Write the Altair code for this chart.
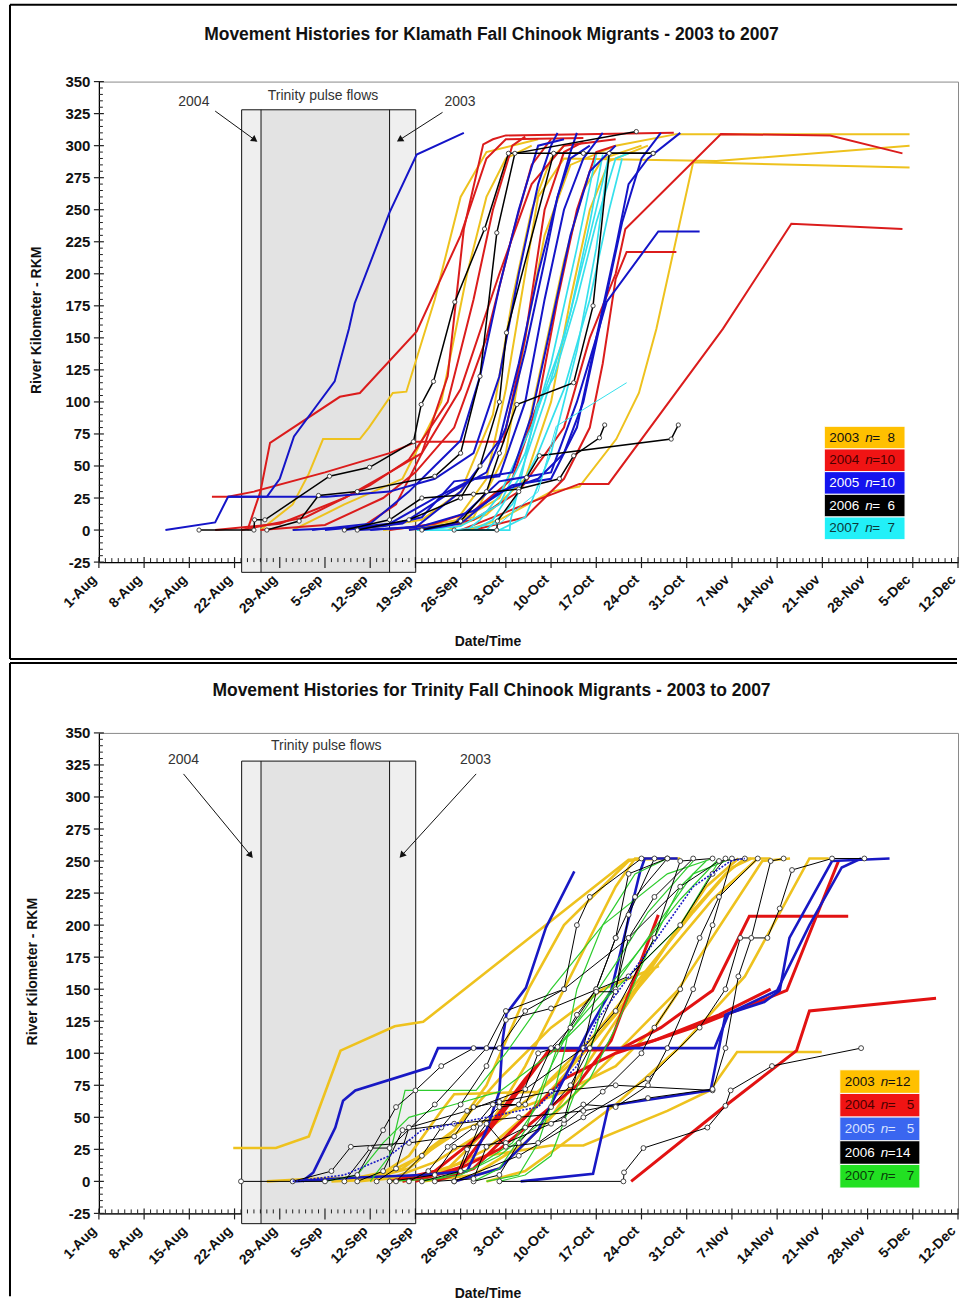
import math
import altair as alt
import pandas as pd

# ---------------- text ----------------
TITLE_TOP = "Movement Histories for Klamath Fall Chinook Migrants - 2003 to 2007"
TITLE_BOT = "Movement Histories for Trinity Fall Chinook Migrants - 2003 to 2007"
X_TITLE = "Date/Time"
Y_TITLE = "River Kilometer - RKM"
YEARS = [2003, 2004, 2005, 2006, 2007]
TOP_N = ["\u00a0=\u20078", "\u00a0=10", "\u00a0=10", "\u00a0=\u20076", "\u00a0=\u20077"]
BOT_N = ["=12", "=\u2007\u00a05", "=\u2007\u00a05", "=14", "=\u2007\u00a07"]

# x values are days after 1-Aug
BASE = pd.Timestamp("2005-08-01")
X_MAX_DAY = 133
Y_MIN, Y_MAX = -25, 350
PULSE_EDGES = [22.1, 25.1, 45.0, 49.05]      # 2004 start, 2003 start, 2003 end, 2004 end
PULSE_TOP, PULSE_BOTTOM = 328, -33

# ---------------- Klamath (top) tracks: (day, rkm) ----------------
TOP_2003 = [
    [(49, 2), (58, 10), (63, 60), (66, 150), (69, 230), (73, 285), (80, 300), (89.4, 309), (125.5, 309)],
    [(44, 0), (55, 5), (60, 40), (63, 110), (66, 200), (68, 260), (72, 290), (95.6, 288), (125.5, 300)],
    [(57, 0), (62, 8), (70, 30), (74.4, 34), (80.1, 71), (83.6, 107), (86.3, 157), (92, 287), (125.5, 283)],
    [(25, 0), (30, 20), (32.5, 44), (34.7, 71), (40.4, 71), (41.8, 80), (45.5, 107), (47.6, 108), (52, 180), (56, 260), (60, 295), (68, 305)],
    [(48, 0), (55, 5), (62, 25), (66, 70), (69, 140), (72, 210), (75, 265), (78, 290), (84, 300)],
    [(30, 0), (38, 20), (47, 40), (53, 100), (57, 200), (60, 260), (63, 290), (67, 300)],
    [(40, 0), (50, 8), (56, 30), (61, 90), (64, 180), (67, 250), (70, 290), (72, 300)],
    [(54, 0), (60, 12), (66, 40), (70, 100), (73, 180), (76, 250), (79, 288), (85, 300)],
]
TOP_2004 = [
    [(56, 0), (66, 20), (74.4, 36), (78.9, 36), (96.6, 157), (107.2, 239), (124.4, 235)],
    [(50, 0), (58, 8), (65, 30), (72, 80), (76, 150), (80, 200), (81.5, 235), (96.3, 309), (113.2, 308), (124.4, 294)],
    [(40, 0), (46, 20), (50, 60), (54, 120), (56.5, 235), (59.5, 301), (61, 305), (63, 308), (89, 310)],
    [(58, 0), (66, 10), (72, 40), (76, 80), (78, 130), (80, 196), (81.7, 217), (89.4, 217)],
    [(23, 0), (25, 30), (26.5, 68), (37.3, 104), (40.4, 107), (49.2, 155), (56, 230), (60, 290), (63, 305), (75, 306)],
    [(17.5, 26), (20, 26), (24, 30), (35, 45), (45, 60), (49.2, 69), (62.6, 69), (66, 150), (69, 250), (72, 295), (75, 303)],
    [(22, 0), (32, 10), (42, 35), (48, 55), (54, 100), (58, 180), (61, 250), (64, 300), (66, 307)],
    [(25, 0), (35, 4), (44, 25), (49, 45), (55, 80), (60, 150), (64, 230), (67, 285), (70, 305)],
    [(18, 0), (28, 5), (38, 25), (45, 45), (50, 60), (56, 110), (62, 200), (67, 270), (72, 300), (80, 305)],
    [(45, 0), (52, 5), (58, 15), (64, 40), (68, 100), (71, 180), (74, 250), (77, 295), (80, 300)],
]
TOP_2005 = [
    [(10.3, 0), (18, 6), (20, 26), (26, 26), (28, 40), (30.2, 73), (33.7, 97), (36.5, 116), (38.7, 157), (39.6, 177), (45, 248), (49.2, 293), (56.5, 310)],
    [(20, 26), (35.3, 26), (45, 30), (52, 40), (58, 60), (62, 120), (65, 200), (68, 270), (70, 300), (71, 310)],
    [(30, 0), (44, 3), (50, 10), (55, 38), (62, 42), (66, 100), (69, 180), (72, 250), (75, 290), (78, 310)],
    [(48, 0), (55, 5), (62, 38), (70, 45), (74, 100), (77, 150), (78.6, 178), (86.6, 233), (93, 233)],
    [(35, 0), (45, 5), (52, 25), (58, 40), (64, 45), (67, 90), (70, 160), (73, 230), (76, 280), (80, 300)],
    [(40, 0), (49, 2), (56, 30), (62, 70), (65, 130), (68, 200), (71, 260), (73, 295), (74, 310)],
    [(33, 0), (42, 5), (48, 30), (52, 50), (56, 70), (59, 120), (62, 190), (65, 250), (68, 300), (72, 305)],
    [(50, 0), (56, 5), (62, 30), (68, 40), (72, 60), (75, 100), (78, 170), (81, 240), (84, 290), (87, 310)],
    [(42, 0), (50, 3), (58, 15), (64, 35), (70, 40), (74, 80), (77, 150), (80, 220), (82, 270), (85, 290), (90, 310)],
    [(38, 0), (47, 5), (54, 28), (60, 45), (63, 80), (66, 140), (69, 210), (71, 260), (73, 290), (76, 300)],
]
TOP_2006 = [
    [(15.5, 0), (24, 0), (24.1, 8), (25.7, 8), (35.7, 42), (41.9, 49), (48.7, 69), (49.9, 98), (51.8, 116), (55.1, 178), (59.7, 235), (63.4, 294), (85.8, 294)],
    [(26, 0), (31, 7), (34, 27), (40, 30), (52, 42), (56, 60), (59, 120), (61.6, 232), (64.4, 294), (83.2, 311)],
    [(38, 0), (45, 8), (50, 25), (58, 28), (65, 32), (71.3, 40), (73.5, 58), (77.5, 72), (78.3, 82)],
    [(55, 0), (61.6, 0), (61.7, 7), (65, 30), (66.2, 41), (68.2, 58), (88.6, 71), (89.7, 82)],
    [(50, 0), (56, 7), (60, 30), (62, 60), (64.7, 98), (73.5, 115), (76.5, 175), (79, 294), (85.8, 294)],
    [(40, 0), (48, 8), (56, 25), (59, 50), (62, 100), (63.1, 154), (70.4, 294), (75, 294)],
]
TOP_2007 = [
    [(49.2, 0), (63.6, 0), (63.7, 7), (65.2, 37), (67.8, 97), (70.5, 120), (74, 180), (77, 240), (80, 290), (82, 294)],
    [(57, 0), (59, 8), (62, 27), (67, 81), (72, 150), (76, 230), (79, 293)],
    [(60, 0), (64, 20), (68, 60), (72, 110), (76, 180), (79, 250), (81, 290)],
    [(58, 0), (61, 8), (65, 40), (69, 100), (73, 170), (76, 240), (78, 293)],
    [(50, 0), (56, 3), (62, 20), (66, 60), (70, 130), (74, 220), (77, 293)],
    [(62, 0), (66, 10), (70, 60), (74, 140), (77, 220), (79, 293)],
]
TOP_2007_THIN = [
    [(55, 0), (62, 5), (68, 30), (70.8, 81), (81.7, 115)],
]

# ---------------- Trinity (bottom) tracks ----------------
BOT_2003 = [
    [(20.8, 26), (27.4, 26), (32.5, 35), (37.4, 102), (45.8, 121), (50.2, 124.5), (82, 251), (90, 252)],
    [(40, 0), (50, 5), (60, 20), (70, 28), (75, 28), (88, 55), (94.6, 71), (98.8, 101), (111.9, 101)],
    [(45, 0), (52, 5), (60, 25), (68, 60), (75, 100), (83, 150), (90, 200), (97, 240), (100, 252), (104, 252)],
    [(40, 0), (48, 10), (55, 40), (60, 75), (66.6, 151), (72, 200), (82, 250), (84, 252)],
    [(50, 0), (58, 5), (66, 30), (74, 70), (82, 110), (89.6, 149), (102.7, 250), (107, 252)],
    [(60, 0), (66, 8), (72, 30), (80, 60), (90, 105), (100, 160), (106, 215), (110, 252), (113, 252)],
    [(26, 0), (33, 2), (40, 3), (47, 10), (55, 40), (62, 80), (70, 120), (78, 150), (86.7, 168)],
    [(42, 0), (48, 20), (53, 55), (55, 68), (68, 70), (75, 100), (85, 160), (95, 220), (102, 252)],
    [(36, 0), (45, 2), (52, 15), (60, 40), (68, 70), (76, 110), (84, 160), (92, 210), (98, 245), (101, 252)],
    [(47, 0), (54, 10), (60, 40), (66, 90), (70, 130), (75, 180), (80, 230), (83, 252), (88, 252)],
    [(55, 0), (62, 10), (70, 50), (78, 110), (86, 170), (94, 230), (99, 252)],
    [(38, 0), (44, 5), (50, 20), (56, 40), (64, 55), (72, 70), (80, 90), (86, 120), (90, 150)],
]
BOT_2004 = [
    [(82.4, 0), (97, 59), (108, 102), (110, 133), (129.6, 143)],
    [(45, 0), (52, 8), (60, 40), (66, 80), (70, 103), (81, 104), (87, 120), (95, 149), (100.7, 207), (116, 207)],
    [(52, 0), (58, 10), (64, 40), (72, 80), (80, 100), (92, 120), (106.5, 149), (114.5, 250)],
    [(47, 0), (55, 8), (62, 25), (68, 50), (74, 75), (79.3, 110), (86.6, 208)],
    [(49, 0), (56, 11), (62, 50), (69.6, 102), (80.9, 103), (86, 110), (96, 130), (104, 150)],
]
BOT_2005 = [
    [(31.5, 0), (33.2, 7), (36.6, 42), (37.8, 63), (39.7, 71), (51.2, 89), (52.5, 104), (95.3, 104), (97.5, 131), (103, 140), (105.4, 149), (106.9, 190), (113.5, 250), (122.4, 252)],
    [(30, 0), (40, 3), (50, 5), (57, 8), (60, 40), (62, 70), (62.5, 110), (63.1, 131), (66.1, 151), (69.2, 198), (73.6, 242)],
    [(55, 0), (62, 10), (68, 40), (72, 80), (76, 120), (79.3, 149), (83.8, 242), (84.5, 252), (89.6, 252)],
    [(65.3, 0), (76.5, 6), (78.9, 59), (94.7, 71), (97, 130), (105, 149), (110, 200), (115, 245), (118, 252)],
]
BOT_2005_DOTTED = [
    [(30, 0), (38, 5), (45, 20), (50, 40), (60, 50), (68, 58), (74, 90), (77, 125), (85, 180), (92, 230), (97.8, 250), (100, 252)],
]
BOT_2006 = [
    [(22, 0), (35, 0), (40, 5), (44, 40), (46, 58), (49, 71), (53, 90), (58, 104), (62, 104), (66, 133), (72, 150), (82, 190), (90, 230), (96, 250), (100, 252)],
    [(30, 0), (36, 8), (39, 27), (48, 30), (55, 35), (58, 58), (62, 62), (70, 70), (80, 75), (95, 71), (97, 104), (99, 160), (101, 190), (104, 250), (106, 252)],
    [(38, 0), (42, 26), (45, 26), (52, 60), (60, 104), (63, 133), (72, 150), (74, 200), (76, 222), (84, 252)],
    [(40, 0), (44, 8), (47, 40), (55, 45), (65, 50), (75, 55), (85, 65), (95, 72)],
    [(43, 0), (46, 10), (48, 42), (57, 55), (66, 72), (75, 104), (80, 133), (86, 190), (90, 250), (95, 252)],
    [(45, 0), (52, 5), (55, 27), (63, 30), (70, 45), (75, 60), (80, 58), (85, 75), (88, 104), (92, 150), (95, 200), (98, 252)],
    [(50, 0), (56, 8), (59, 45), (62, 58), (65, 60), (68, 100), (71, 105), (74, 130), (77, 150), (80, 190), (83, 222), (88, 252)],
    [(55, 0), (57, 25), (60, 45), (63, 27), (68, 30), (72, 45), (78, 70), (84, 100), (86, 120), (90, 150), (93, 190), (96, 222), (102, 252)],
    [(58, 0), (62, 5), (65, 30), (70, 58), (73, 75), (76, 104), (80, 150), (82, 190), (86, 222), (92, 252)],
    [(62, 0), (81.2, 0), (81.3, 7), (84.3, 26), (94.2, 42), (97, 59), (97.8, 71), (104.2, 90), (118, 104)],
    [(55, 0), (65, 20), (75, 50), (85, 80), (93, 120), (97, 150), (99.3, 190), (103.5, 190), (105.4, 213), (107.3, 243), (113.5, 252), (118.5, 252)],
    [(48, 0), (51, 8), (54, 27), (58, 42), (61, 60), (66, 60), (70, 104), (73, 120), (77, 150), (80, 190), (82, 240), (88, 252)],
    [(52, 0), (58, 2), (60, 27), (66, 42), (72, 48), (75, 104), (77, 148), (80, 148), (82, 208), (86, 252)],
    [(46, 0), (50, 20), (53, 42), (56, 60), (60, 90), (63, 126), (70, 135), (82, 160), (90, 200), (95, 240), (97, 252)],
]
BOT_2007 = [
    [(42, 0), (45, 20), (47.4, 71), (58.4, 71), (63, 100), (70, 150), (78, 200), (88, 240), (95, 252)],
    [(60, 0), (65, 5), (68, 30), (70, 60), (72, 100), (74, 150), (78, 200), (83, 240), (88, 252)],
    [(50, 0), (56, 5), (62, 20), (67, 40), (72, 60), (76, 80), (80, 120), (85, 180), (90, 230), (94, 250)],
    [(35, 0), (40, 5), (44, 30), (48, 50), (55, 60), (62, 70), (70, 100), (80, 150), (90, 200), (96, 250)],
    [(58, 0), (62, 10), (66, 40), (69, 80), (72, 110), (76, 140), (80, 170), (85, 210), (92, 250)],
    [(45, 0), (52, 2), (58, 10), (64, 30), (68, 60), (71, 105), (75, 130), (82, 170), (90, 220), (96, 252)],
    [(62, 0), (66, 5), (70, 20), (73, 60), (76, 100), (78, 140), (85, 190), (92, 240), (98, 252)],
]

# annotations: (day, rkm)
TOP_ANN_TEXT = [("Trinity pulse flows", 34.7, 339), ("2004", 14.7, 334), ("2003", 55.9, 334)]
TOP_ARROWS = [(18.0, 327, 24.0, 305), (53.2, 326, 46.7, 305)]
BOT_ANN_TEXT = [("Trinity pulse flows", 35.2, 340), ("2004", 13.1, 329), ("2003", 58.3, 329)]
BOT_ARROWS = [(13.1, 318, 23.4, 255), (58.4, 318, 47.0, 255)]
TOP_LEGEND = (112.3, 124.8, 81.0, 17.7)     # day left, day right, top rkm, row height
BOT_LEGEND = (114.7, 127.1, 87.1, 18.46)

# ---------------- styles ----------------
FONT = "Liberation Sans"
W, H = 860, 481
TOP_COL = {2003: "#EEC21E", 2004: "#DB1C1C", 2005: "#1414C8", 2006: "#000000", 2007: "#35E0EC"}
TOP_SW = {2003: 2, 2004: 2, 2005: 2, 2006: 1.5, 2007: 1.7}
BOT_COL = {2003: "#EEC21E", 2004: "#E21212", 2005: "#1818C4", 2006: "#000000", 2007: "#2ECC2E"}
BOT_SW = {2003: 2.6, 2004: 3, 2005: 2.6, 2006: 1, 2007: 1.2}
TOP_LEG_BG = ["#FFC000", "#F01414", "#1414EE", "#000000", "#22F0F8"]
TOP_LEG_FG = ["#111111", "#4a0000", "#FFFFFF", "#FFFFFF", "#0b3a3a"]
BOT_LEG_BG = ["#FFC000", "#F01414", "#3A66F0", "#000000", "#22E022"]
BOT_LEG_FG = ["#111111", "#4a0000", "#D8E2FF", "#FFFFFF", "#083a08"]


def ts(day):
    return (BASE + pd.to_timedelta(float(day), unit="D")).strftime("%Y-%m-%dT%H:%M:%S")


def dt(day):
    t = BASE + pd.to_timedelta(day, unit="D")
    return alt.DateTime(year=t.year, month=t.month, date=t.day)


def tracks_df(tracks, tag):
    rows = []
    for i, tr in enumerate(tracks):
        for j, (d, r) in enumerate(tr):
            rows.append({"track": f"{tag}-{i}", "seq": j, "date": ts(d), "rkm": r})
    return pd.DataFrame(rows)


XSCALE = alt.Scale(domain=[dt(0), dt(X_MAX_DAY)], nice=False)
YSCALE = alt.Scale(domain=[Y_MIN, Y_MAX], nice=False)


def xaxis(title_y):
    return alt.Axis(values=[dt(d) for d in range(0, X_MAX_DAY + 1, 7)], format="%-d-%b",
                    labelAngle=-45, labelAlign="right", labelBaseline="bottom",
                    labelFont=FONT, labelFontSize=14, labelFontWeight="bold",
                    labelColor="#111", labelPadding=20, ticks=False, grid=False,
                    domainColor="#000", domainWidth=1.2,
                    title=X_TITLE, titleFont=FONT, titleFontSize=14, titleFontWeight="bold",
                    titleColor="#111", titleX=389, titleY=title_y, titleBaseline="middle",
                    titleAlign="center")


def yaxis(title_x):
    return alt.Axis(values=list(range(Y_MIN, Y_MAX + 1, 25)), labelExpr="'' + datum.value",
                    labelFont=FONT, labelFontSize=15,
                    labelFontWeight="bold", labelColor="#111", labelPadding=9, ticks=False,
                    grid=False, domainColor="#000", domainWidth=1.2,
                    title=Y_TITLE, titleFont=FONT, titleFontSize=14, titleFontWeight="bold",
                    titleColor="#111", titleX=title_x, titleY=H / 2 - 2, titleBaseline="middle",
                    titleAlign="center", titleAngle=-90)


def panel(title, groups, col, sw, ann_text, arrows, legend, leg_bg, leg_fg, n_text,
          frame_top, title_y, xtitle_y, ytitle_x, frame_bottom, mark_size, special):
    X = alt.X("date:T", scale=XSCALE, axis=xaxis(xtitle_y))
    Y = alt.Y("rkm:Q", scale=YSCALE, axis=yaxis(ytitle_x))
    one = alt.Chart(pd.DataFrame({"k": [0]}))
    layers = []

    # pulse-flow bands
    e = PULSE_EDGES
    bands = pd.DataFrame({"date": [ts(e[0]), ts(e[1]), ts(e[2])],
                          "date2": [ts(e[1]), ts(e[2]), ts(e[3])],
                          "rkm": [PULSE_BOTTOM] * 3, "rkm2": [PULSE_TOP] * 3,
                          "kind": ["side", "mid", "side"]})
    layers.append(alt.Chart(bands).mark_rect().encode(
        x=X, x2="date2", y=Y, y2="rkm2",
        color=alt.Color("kind:N", scale=alt.Scale(domain=["side", "mid"], range=["#efefef", "#e3e3e3"]), legend=None)))

    # axis ticks (major crossing, minor inside)
    xt = pd.DataFrame({"date": [ts(d) for d in range(0, X_MAX_DAY + 1)],
                       "major": [d % 7 == 0 for d in range(0, X_MAX_DAY + 1)]})
    layers.append(alt.Chart(xt[~xt.major]).mark_rule(color="#222", strokeWidth=1).encode(
        x=X, y=alt.value(H - 4), y2=alt.value(H)))
    layers.append(alt.Chart(xt[xt.major]).mark_rule(color="#222", strokeWidth=1.2).encode(
        x=X, y=alt.value(H - 5), y2=alt.value(H + 6)))
    yt = pd.DataFrame({"rkm": list(range(Y_MIN, Y_MAX + 1, 5))})
    yt["major"] = yt.rkm % 25 == 0
    layers.append(alt.Chart(yt[~yt.major]).mark_rule(color="#222", strokeWidth=1).encode(
        y=Y, x=alt.value(0), x2=alt.value(4)))
    layers.append(alt.Chart(yt[yt.major]).mark_rule(color="#222", strokeWidth=1.2).encode(
        y=Y, x=alt.value(-5), x2=alt.value(5)))

    # band outlines
    outline = pd.DataFrame({"date": [ts(e[0])], "date2": [ts(e[3])], "rkm": [PULSE_BOTTOM], "rkm2": [PULSE_TOP]})
    layers.append(alt.Chart(outline).mark_rect(filled=False, stroke="#111", strokeWidth=1).encode(
        x=X, x2="date2", y=Y, y2="rkm2"))
    inner = pd.DataFrame({"date": [ts(e[1]), ts(e[2])], "rkm": [PULSE_BOTTOM] * 2, "rkm2": [PULSE_TOP] * 2})
    layers.append(alt.Chart(inner).mark_rule(color="#111", strokeWidth=1).encode(x=X, y=Y, y2="rkm2"))

    # annotations
    tdf = pd.DataFrame([{"label": t, "date": ts(d), "rkm": r} for t, d, r in ann_text])
    layers.append(alt.Chart(tdf).mark_text(font=FONT, fontSize=14, color="#333", baseline="middle").encode(
        x=X, y=Y, text="label:N"))
    pxd, pxr = W / X_MAX_DAY, H / (Y_MAX - Y_MIN)
    for (d1, r1, d2, r2) in arrows:
        adf = pd.DataFrame({"date": [ts(d1)], "date2": [ts(d2)], "rkm": [r1], "rkm2": [r2]})
        layers.append(alt.Chart(adf).mark_rule(color="#111", strokeWidth=1).encode(
            x=X, x2="date2", y=Y, y2="rkm2"))
        ang = math.degrees(math.atan2((d2 - d1) * pxd, (r2 - r1) * pxr)) % 360
        hdf = pd.DataFrame({"date": [ts(d2)], "rkm": [r2]})
        layers.append(alt.Chart(hdf).mark_point(shape="triangle", filled=True, color="#111", size=55,
                                                angle=ang, opacity=1).encode(x=X, y=Y))

    # tracks
    for yr, tracks in groups:
        df = tracks_df(tracks, yr)
        layers.append(alt.Chart(df).mark_line(color=col[yr], strokeWidth=sw[yr]).encode(
            x=X, y=Y, detail="track:N", order="seq:Q"))
        if yr == 2006:
            layers.append(alt.Chart(df).mark_point(shape="circle", filled=True, fill="#ffffff",
                                                   stroke="#333", strokeWidth=0.9, size=mark_size,
                                                   opacity=1).encode(x=X, y=Y))
    for yr, tracks, style in special:
        df = tracks_df(tracks, f"s{yr}")
        kw = dict(color=col[yr], strokeWidth=style[0])
        if style[1]:
            kw["strokeDash"] = style[1]
        layers.append(alt.Chart(df).mark_line(**kw).encode(x=X, y=Y, detail="track:N", order="seq:Q"))

    # legend boxes
    dl, dr, top, rh = legend
    leg = pd.DataFrame({
        "year": [str(y) for y in YEARS],
        "rest": n_text,
        "bg": leg_bg, "fg": leg_fg,
        "date": [ts(dl)] * 5, "date2": [ts(dr)] * 5,
        "rkm": [top - rh * (i + 1) for i in range(5)],
        "rkm2": [top - rh * i for i in range(5)],
        "mid": [top - rh * (i + 0.5) for i in range(5)],
    })
    layers.append(alt.Chart(leg).mark_rect(stroke="#ffffff", strokeWidth=1).encode(
        x=X, x2="date2", y=Y, y2="rkm2", fill=alt.Fill("bg:N", scale=None)))
    for fld, dx, style in [("year", 5, "normal"), ("n", 41, "italic"), ("rest", 48, "normal")]:
        enc = dict(x=X, y=alt.Y("mid:Q", scale=YSCALE, axis=yaxis(ytitle_x)),
                   color=alt.Color("fg:N", scale=None))
        if fld == "n":
            mk = alt.Chart(leg).mark_text(text="n", font=FONT, fontSize=13.5, fontStyle="italic",
                                         align="left", baseline="middle", dx=dx)
            layers.append(mk.encode(**enc))
        else:
            mk = alt.Chart(leg).mark_text(font=FONT, fontSize=13.5, fontStyle=style,
                                         align="left", baseline="middle", dx=dx)
            layers.append(mk.encode(text=f"{fld}:N", **enc))

    # chart title and frame
    layers.append(one.mark_text(text=title, font=FONT, fontSize=17.5, fontWeight="bold", color="#111",
                                align="center", baseline="middle").encode(
        x=alt.value(393), y=alt.value(title_y)))
    layers.append(one.mark_rule(color="#000", strokeWidth=2).encode(
        x=alt.value(-89), x2=alt.value(W - 1), y=alt.value(frame_top)))
    layers.append(one.mark_rule(color="#000", strokeWidth=2).encode(
        x=alt.value(-89), y=alt.value(frame_top), y2=alt.value(frame_bottom)))
    if frame_bottom > H + 90:
        layers.append(one.mark_rule(color="#000", strokeWidth=2).encode(
            x=alt.value(-89), x2=alt.value(W - 1), y=alt.value(frame_bottom)))
    return alt.layer(*layers).properties(width=W, height=H)


top = panel(TITLE_TOP,
            [(2003, TOP_2003), (2004, TOP_2004), (2007, TOP_2007), (2005, TOP_2005), (2006, TOP_2006)],
            TOP_COL, TOP_SW, TOP_ANN_TEXT, TOP_ARROWS, TOP_LEGEND, TOP_LEG_BG, TOP_LEG_FG, TOP_N,
            frame_top=-77, title_y=-47, xtitle_y=79, ytitle_x=-62, frame_bottom=578, mark_size=18,
            special=[(2007, TOP_2007_THIN, (1, None))])
bot = panel(TITLE_BOT,
            [(2003, BOT_2003), (2004, BOT_2004), (2005, BOT_2005), (2007, BOT_2007), (2006, BOT_2006)],
            BOT_COL, BOT_SW, BOT_ANN_TEXT, BOT_ARROWS, BOT_LEGEND, BOT_LEG_BG, BOT_LEG_FG, BOT_N,
            frame_top=-70, title_y=-42, xtitle_y=80, ytitle_x=-66, frame_bottom=564, mark_size=24,
            special=[(2005, BOT_2005_DOTTED, (1.6, [2, 1.5]))])

chart = alt.vconcat(top, bot, spacing=0).properties(
    padding={"left": 8, "top": 2, "right": 0, "bottom": 0},
    background="#ffffff",
).configure_view(stroke="#8a8a8a", strokeWidth=1)

chart.save("out.html", embed_options={"renderer": "svg", "actions": False})
